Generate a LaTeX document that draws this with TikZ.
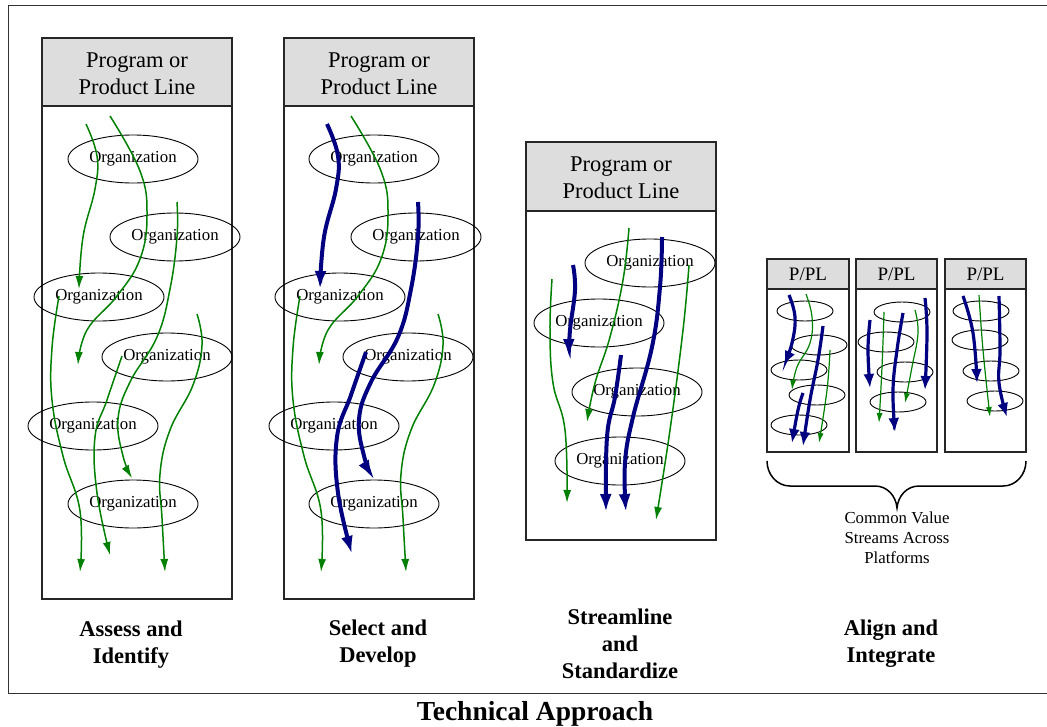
\documentclass[tikz,border=0pt]{standalone}
\usepackage{fontspec}
\setmainfont{Liberation Serif}
\usetikzlibrary{shapes.geometric,arrows.meta}
\definecolor{grn}{RGB}{0,128,0}
\definecolor{nvy}{RGB}{0,0,128}
\definecolor{hdr}{RGB}{221,221,221}
\tikzset{
 boxline/.style={draw=black!85, line width=1.1pt},
 hdrbox/.style={boxline, fill=hdr},
 org/.style={draw, ellipse, line width=0.9pt, minimum width=130pt, minimum height=48pt, inner sep=0pt, font=\fontsize{16.8}{19}\selectfont},
 sorg/.style={draw, ellipse, line width=0.9pt, minimum width=56pt, minimum height=20pt, inner sep=0pt},
 garrow/.style={draw=grn, line width=1.5pt, -{Latex[length=13pt,width=8pt]}},
 barrow/.style={draw=nvy, line width=4pt, -{Latex[length=18pt,width=12pt]}},
 sgarrow/.style={draw=grn, line width=1.2pt, -{Latex[length=10pt,width=6pt]}},
 sbarrow/.style={draw=nvy, line width=3.2pt, -{Latex[length=14pt,width=11pt]}},
 htext/.style={font=\fontsize{22.5}{27}\selectfont, align=center},
 ptext/.style={font=\fontsize{19}{22}\selectfont},
 ltext/.style={font=\fontsize{22.5}{27}\selectfont\bfseries, align=center},
 ctext/.style={font=\fontsize{16.8}{20}\selectfont, align=center},
}
\begin{document}
\begin{tikzpicture}[x=1pt,y=-1pt]
\useasboundingbox (0,0) rectangle (1047,726);
\clip (0,0) rectangle (1047,726);
% outer frame
\draw[line width=1pt, black!80] (1060,5) -- (8,5) -- (8,693) -- (1060,693);

% ---------- Panel 1 ----------
\draw[boxline] (42,106) rectangle (232,599);
\draw[hdrbox] (42,38) rectangle (232,106);
\node[htext] (h1) at (137,74) {Program or\\Product Line};
\node[org] (o11) at (133,159) {Organization};
\node[org] (o12) at (175,237) {Organization};
\node[org] (o13) at (99,297) {Organization};
\node[org] (o14) at (167,357) {Organization};
\node[org] (o15) at (93,426) {Organization};
\node[org] (o16) at (133,504) {Organization};
\draw[garrow] plot[smooth,tension=0.7] coordinates {(86,124) (97,156) (95,189) (83,237) (79,289)};
\draw[garrow] plot[smooth,tension=0.7] coordinates {(110,116) (140,171) (147,215) (140,259) (117,296) (87,330) (78,365)};
\draw[garrow] plot[smooth,tension=0.7] coordinates {(177,202) (177,237) (170,289) (157,337) (130,382) (118,419) (123,456) (132,478)};
\draw[garrow] plot[smooth,tension=0.7] coordinates {(197,314) (202,345) (193,385) (170,430) (160,474) (162,518) (165,572)};
\draw[garrow] plot[smooth,tension=0.7] coordinates {(59,296) (52,348) (52,400) (63,456) (80,511) (80,572)};
\draw[garrow] plot[smooth,tension=0.7] coordinates {(122,356) (107,400) (95,437) (97,493) (110,555)};

% ---------- Panel 2 ----------
\draw[boxline] (284,106) rectangle (474,599);
\draw[hdrbox] (284,38) rectangle (474,106);
\node[htext] (h2) at (379,74) {Program or\\Product Line};
\begin{scope}[xshift=241pt]
\node[org] (o21) at (133,159) {Organization};
\node[org] (o22) at (175,237) {Organization};
\node[org] (o23) at (99,297) {Organization};
\node[org] (o24) at (167,357) {Organization};
\node[org] (o25) at (93,426) {Organization};
\node[org] (o26) at (133,504) {Organization};
\draw[garrow] plot[smooth,tension=0.7] coordinates {(110,116) (140,171) (147,215) (140,259) (117,296) (87,330) (78,365)};
\draw[garrow] plot[smooth,tension=0.7] coordinates {(197,314) (202,345) (193,385) (170,430) (160,474) (162,518) (165,572)};
\draw[garrow] plot[smooth,tension=0.7] coordinates {(59,296) (52,348) (52,400) (63,456) (80,511) (80,572)};
\draw[barrow] plot[smooth,tension=0.7] coordinates {(86,124) (97,156) (95,189) (83,237) (79,289)};
\draw[barrow] plot[smooth,tension=0.7] coordinates {(177,202) (177,237) (170,289) (157,337) (130,382) (118,419) (123,456) (132,478)};
\draw[barrow] plot[smooth,tension=0.7] coordinates {(125,352) (110,395) (96,437) (97,493) (111,554)};
\end{scope}

% ---------- Panel 3 ----------
\draw[boxline] (526,211) rectangle (716,540);
\draw[hdrbox] (526,142) rectangle (716,211);
\node[htext] (h3) at (621,178) {Program or\\Product Line};
\node[org] (o31) at (650,263) {Organization};
\node[org] (o32) at (599,323) {Organization};
\node[org] (o33) at (637,392) {Organization};
\node[org] (o34) at (620,461) {Organization};
\draw[garrow] plot[smooth,tension=0.7] coordinates {(552,279) (550,330) (553,383) (565,430) (567,503)};
\draw[garrow] plot[smooth,tension=0.7] coordinates {(629,228) (623,280) (610,337) (595,383) (587,422)};
\draw[garrow] plot[smooth,tension=0.7] coordinates {(689,265) (683,330) (670,430) (656,520)};
\draw[barrow] plot[smooth,tension=0.7] coordinates {(573,265) (575,290) (570,330) (569,357)};
\draw[barrow] plot[smooth,tension=0.7] coordinates {(662,237) (660,287) (652,347) (633,417) (625,463) (626,512)};
\draw[barrow] plot[smooth,tension=0.7] coordinates {(621,355) (615,397) (607,437) (606,512)};

% ---------- Panel 4 ----------
\draw[boxline] (767,289) rectangle (849,452);
\draw[hdrbox] (767,259) rectangle (849,289);
\draw[boxline] (856,289) rectangle (937,452);
\draw[hdrbox] (856,259) rectangle (937,289);
\draw[boxline] (945,289) rectangle (1026,452);
\draw[hdrbox] (945,259) rectangle (1026,289);
\node[ptext] (p1) at (808,274) {P/PL};
\node[ptext] (p2) at (896.5,274) {P/PL};
\node[ptext] (p3) at (985.5,274) {P/PL};
\node[sorg] (s11) at (805,311) {};
\node[sorg] (s12) at (819,345) {};
\node[sorg] (s13) at (799,370) {};
\node[sorg] (s14) at (817,395) {};
\node[sorg] (s15) at (799,425) {};
\node[sorg] (s21) at (902,312) {};
\node[sorg] (s22) at (886,342) {};
\node[sorg] (s23) at (905,372) {};
\node[sorg] (s24) at (898,402) {};
\node[sorg] (s31) at (981,311) {};
\node[sorg] (s32) at (980,340) {};
\node[sorg] (s33) at (991,371) {};
\node[sorg] (s34) at (995,401) {};
% box 1
\draw[sgarrow] plot[smooth,tension=0.7] coordinates {(806,294) (812,317) (810,343) (797,367) (792,390)};
\draw[sgarrow] plot[smooth,tension=0.7] coordinates {(830,350) (827,390) (819,443)};
\draw[sbarrow] plot[smooth,tension=0.7] coordinates {(789,295) (795,317) (792,343) (784,365)};
\draw[sbarrow] plot[smooth,tension=0.7] coordinates {(823,326) (818,360) (810,400) (803,446)};
\draw[sbarrow] plot[smooth,tension=0.7] coordinates {(803,393) (798,410) (792,443)};
% box 2
\draw[sgarrow] plot[smooth,tension=0.7] coordinates {(884,312) (882,367) (879,423)};
\draw[sgarrow] plot[smooth,tension=0.7] coordinates {(915,310) (918,333) (912,367) (905,403)};
\draw[sbarrow] plot[smooth,tension=0.7] coordinates {(870,320) (868,350) (870,388)};
\draw[sbarrow] plot[smooth,tension=0.7] coordinates {(903,313) (897,350) (893,390) (895,432)};
\draw[sbarrow] plot[smooth,tension=0.7] coordinates {(925,298) (927,333) (925,390)};
% box 3
\draw[sgarrow] plot[smooth,tension=0.7] coordinates {(979,295) (983,350) (990,417)};
\draw[sbarrow] plot[smooth,tension=0.7] coordinates {(963,296) (973,333) (977,383)};
\draw[sbarrow] plot[smooth,tension=0.7] coordinates {(999,296) (1000,350) (999,383) (1007,417)};

% brace
\coordinate (bl) at (767,461);
\coordinate (br) at (1026,461);
\coordinate (bt) at (897,508);
\draw[line width=1.5pt] (bl) to[out=-90,in=180] (790,486) -- (875,486) to[out=0,in=95] (bt) to[out=85,in=180] (919,486) -- (1003,486) to[out=0,in=-90] (br);
\node[ctext] (cv) at (897,538) {Common Value\\Streams Across\\Platforms};

% labels
\node[ltext] (l1) at (131,645) {Assess and\\Identify};
\node[ltext] (l2) at (378,644) {Select and\\Develop};
\node[ltext] (l3) at (620,644) {Streamline\\and\\Standardize};
\node[ltext] (l4) at (891,644) {Align and\\Integrate};
\node[font=\fontsize{27.5}{32}\selectfont\bfseries] (title) at (535,714) {Technical Approach};
\end{tikzpicture}
\end{document}
